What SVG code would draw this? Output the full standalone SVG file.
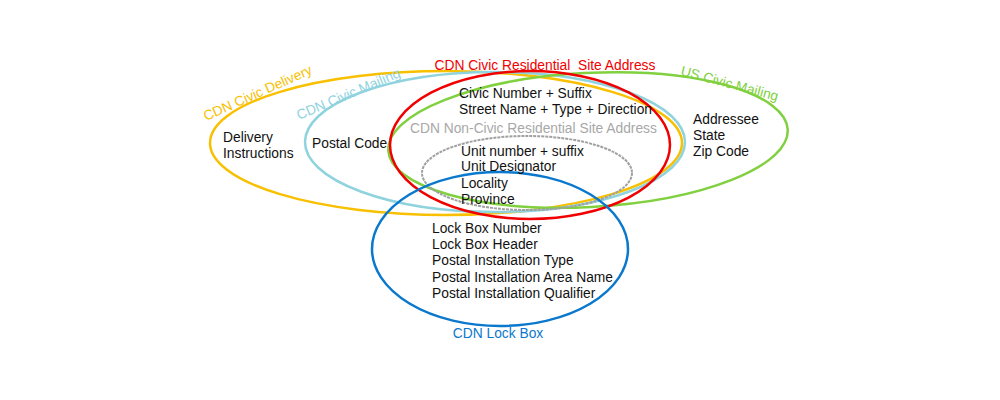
<svg xmlns="http://www.w3.org/2000/svg" width="1000" height="400" viewBox="0 0 1000 400">
<style>
text{font-family:"Liberation Sans",Arial,sans-serif;font-size:13.8px;fill:#111}
.e{fill:none;stroke-width:2.5}
</style>
<rect width="1000" height="400" fill="#fff"/>
<ellipse class="e" cx="446" cy="143" rx="236" ry="72" stroke="#f8c000"/>
<ellipse class="e" cx="495" cy="142" rx="190" ry="70" stroke="#8fd3de"/>
<ellipse class="e" cx="588" cy="140" rx="200" ry="67" stroke="#80d040" transform="rotate(-3 588 140)"/>
<ellipse cx="527" cy="173" rx="105" ry="37" fill="none" stroke="#a0a0a0" stroke-width="2" stroke-dasharray="3 1"/>
<ellipse class="e" cx="530" cy="145" rx="140" ry="74" stroke="#f00000"/>
<ellipse class="e" cx="500" cy="249" rx="128" ry="77" stroke="#0a78cc"/>
<text x="545" y="70" text-anchor="middle" xml:space="preserve" style="fill:#f00000">CDN Civic Residential  Site Address</text>
<text x="0" y="0" transform="translate(206,121) rotate(-24)" style="fill:#f8c000">CDN Civic Delivery</text>
<text x="0" y="0" transform="translate(299,120) rotate(-23)" style="fill:#8fd3de">CDN Civic Mailing</text>
<text x="0" y="0" transform="translate(680,75) rotate(15)" style="fill:#80d040">US Civic Mailing</text>
<text x="223" y="142">Delivery</text>
<text x="223" y="158">Instructions</text>
<text x="312" y="148">Postal Code</text>
<text x="459" y="98">Civic Number + Suffix</text>
<text x="459" y="114">Street Name + Type + Direction</text>
<text x="410" y="133" style="fill:#a8a8a8">CDN Non-Civic Residential Site Address</text>
<text x="461" y="156">Unit number + suffix</text>
<text x="461" y="171">Unit Designator</text>
<text x="461" y="188">Locality</text>
<text x="461" y="204">Province</text>
<text x="693" y="124">Addressee</text>
<text x="693" y="140">State</text>
<text x="693" y="156">Zip Code</text>
<text x="432" y="233">Lock Box Number</text>
<text x="432" y="249">Lock Box Header</text>
<text x="432" y="265">Postal Installation Type</text>
<text x="432" y="282">Postal Installation Area Name</text>
<text x="432" y="298">Postal Installation Qualifier</text>
<text x="498" y="338" text-anchor="middle" style="fill:#0a78cc">CDN Lock Box</text>
</svg>
